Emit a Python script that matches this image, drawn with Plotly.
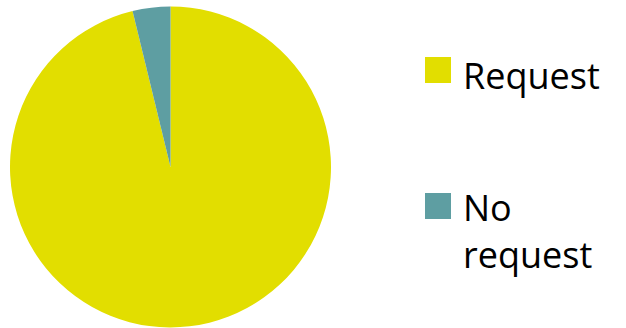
import plotly.graph_objects as go

labels = ["Request", "No request"]
legend_text = ["Request", "No<br>request"]
values = [96.2, 3.8]
colors = ["#e2de00", "#5e9ea2"]

fig = go.Figure()
fig.add_trace(go.Pie(
    labels=labels, values=values, sort=False, direction="clockwise",
    marker=dict(colors=colors, line=dict(width=0)),
    textinfo="none", hoverinfo="label+percent",
    domain=dict(x=[10/626, 331/626], y=[0, 1]),
    showlegend=False,
))

H = 322  # plot area height (margin t=6)
sq_y = [70, 206]     # square centers in px from top of window
text_tops = [49, 181]  # annotation tops in px
for txt, col, yc, t in zip(legend_text, colors, sq_y, text_tops):
    fig.add_shape(type="rect", xref="paper", yref="paper",
                  x0=425/626, x1=451/626,
                  y0=1-(yc+13-6)/H, y1=1-(yc-13-6)/H,
                  fillcolor=col, line=dict(width=0))
    fig.add_annotation(text=txt, xref="paper", yref="paper",
                       x=461/626, y=1-(t-6)/H, xanchor="left", yanchor="top",
                       align="left", showarrow=False,
                       font=dict(family="Open Sans", size=36, color="#000000"))

fig.update_layout(width=626, height=328, margin=dict(l=0, r=0, t=6, b=0),
                  paper_bgcolor="white", plot_bgcolor="white")
fig.write_html("out.html")
